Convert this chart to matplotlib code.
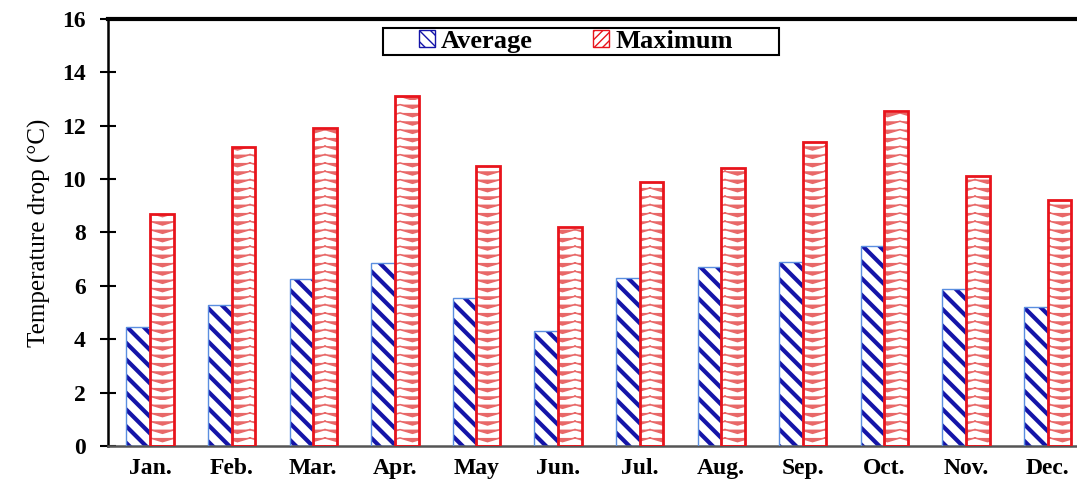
import warnings
import numpy as np
import matplotlib
matplotlib.use("Agg")
import matplotlib.pyplot as plt
import matplotlib.hatch as mhatch
from matplotlib.path import Path
from matplotlib.patches import Patch, Rectangle

warnings.filterwarnings("ignore")

months = ["Jan.", "Feb.", "Mar.", "Apr.", "May", "Jun.", "Jul.", "Aug.", "Sep.", "Oct.", "Nov.", "Dec."]
average = [4.45, 5.3, 6.25, 6.85, 5.55, 4.3, 6.3, 6.72, 6.9, 7.5, 5.9, 5.2]
maximum = [8.7, 11.2, 11.9, 13.1, 10.5, 8.2, 9.9, 10.43, 11.4, 12.55, 10.1, 9.2]
yticks = [0, 2, 4, 6, 8, 10, 12, 14, 16]


# chevron hatch ('v'), not one of the built-in patterns
class ChevronHatch(mhatch.HatchPatternBase):
    def __init__(self, hatch, density):
        self.num_rows = int(hatch.count('v') * density)
        self.num_cols = max(self.num_rows // 3, 1) if self.num_rows else 0
        self.num_vertices = self.num_rows * self.num_cols * 3

    def set_vertices_and_codes(self, vertices, codes):
        h = 0.45 / self.num_rows
        w = 1.0 / self.num_cols
        k = 0
        for i in range(self.num_rows):
            y = i / self.num_rows
            for j in range(self.num_cols):
                x = j * w
                vertices[k:k + 3] = [(x, y + h), (x + w / 2, y), (x + w, y + h)]
                codes[k:k + 3] = [Path.MOVETO, Path.LINETO, Path.LINETO]
                k += 3


mhatch._hatch_types.append(ChevronHatch)

plt.rcParams['font.family'] = ['Liberation Serif', 'DejaVu Serif']

fig = plt.figure(figsize=(10.77, 4.82), dpi=100)
ax = fig.add_axes([0.1003, 0.0747, 0.8997, 0.886])

x = np.arange(len(months))
w = 0.29


def hatched_bars(xpos, vals, hatch, hcolor, hlw, edge, elw):
    with plt.rc_context({'hatch.linewidth': hlw}):
        bars = ax.bar(xpos, vals, w, color='white', edgecolor=hcolor,
                      linewidth=0, hatch=hatch, zorder=2)
    for b in bars:
        if hasattr(b, 'set_hatch_linewidth'):
            b.set_hatch_linewidth(hlw)
    ax.bar(xpos, vals, w, fill=False, edgecolor=edge, linewidth=elw, zorder=3)


hatched_bars(x - w / 2, average, '\\\\', '#1414a8', 3.0, '#5a8ee0', 1.0)
hatched_bars(x + w / 2, maximum, 'vv', '#e86868', 1.1, '#e8141c', 2.0)

ax.set_xlim(-0.515, 11.36)
ax.set_ylim(0, 16)
ax.set_xticks(x)
ax.set_xticklabels(months, fontsize=17, fontweight='bold')
ax.set_yticks(yticks)
ax.set_yticklabels([str(v) for v in yticks], fontsize=17, fontweight='bold')
ax.tick_params(axis='x', length=0, pad=9)
ax.tick_params(axis='y', direction='inout', length=12, width=1.5, pad=10)
ax.set_ylabel("Temperature drop (°C)", fontsize=18, labelpad=8)

ax.spines['right'].set_visible(False)
ax.spines['top'].set_linewidth(3)
ax.spines['top'].set_color('black')
ax.spines['left'].set_linewidth(1.8)
ax.spines['bottom'].set_linewidth(1.8)
ax.spines['bottom'].set_color('#555555')

# legend entries spread over a fixed span, box drawn separately
handles = [Patch(facecolor='white', edgecolor='#1414a8', hatch='\\\\\\', label='Average'),
           Patch(facecolor='white', edgecolor='#e8141c', hatch='////', label='Maximum')]
leg = ax.legend(handles=handles, loc='lower left', mode='expand',
                bbox_to_anchor=(0.318, 0.914, 0.33, 0.065), borderaxespad=0,
                ncol=2, frameon=False,
                prop={'size': 19, 'weight': 'bold'}, handlelength=0.6, handleheight=0.6,
                handletextpad=0.25, borderpad=0.1)
leg.set_zorder(6)
ax.add_patch(Rectangle((0.2838, 0.9157), 0.4087, 0.0632, transform=ax.transAxes,
                       facecolor='white', edgecolor='black', linewidth=1.5, zorder=5))

fig.savefig("out.png", dpi=100)
